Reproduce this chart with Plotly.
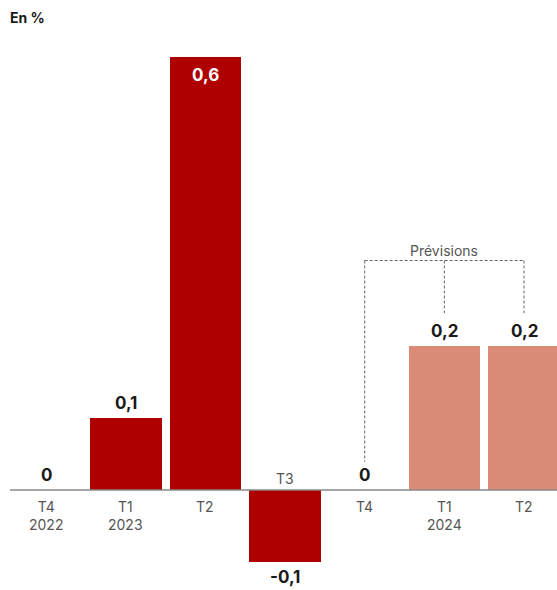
import plotly.graph_objects as go

categories = ["T4<br>2022", "T1<br>2023", "T2", "T3", "T4", "T1<br>2024", "T2"]
values = [0, 0.1, 0.6, -0.1, 0, 0.2, 0.2]
value_labels = ["0", "0,1", "0,6", "-0,1", "0", "0,2", "0,2"]
is_forecast = [False, False, False, False, False, True, True]

RED = "#AF0000"
PINK = "#D98B77"
FONT = "Inter, Roboto, sans-serif"

x = list(range(len(values)))
colors = [PINK if f else RED for f in is_forecast]

fig = go.Figure()
fig.add_trace(go.Bar(x=x, y=values, marker=dict(color=colors, line=dict(width=0)),
                     width=0.9, hoverinfo="skip"))

annotations = []
for i, (v, lab, cat) in enumerate(zip(values, value_labels, categories)):
    # value labels
    if v >= 0.5:
        annotations.append(dict(x=i, y=v, text="<b>%s</b>" % lab, showarrow=False,
                                yanchor="top", yshift=-6,
                                font=dict(family=FONT, size=17, color="white")))
    elif v >= 0:
        annotations.append(dict(x=i, y=v, text="<b>%s</b>" % lab, showarrow=False,
                                yanchor="bottom", yshift=3,
                                font=dict(family=FONT, size=17, color="#1a1a1a")))
    else:
        annotations.append(dict(x=i, y=v, text="<b>%s</b>" % lab, showarrow=False,
                                yanchor="top", yshift=-3,
                                font=dict(family=FONT, size=17, color="#1a1a1a")))
    # category labels
    if v < 0:
        annotations.append(dict(x=i, y=0, text=cat, showarrow=False,
                                yanchor="bottom", yshift=1,
                                font=dict(family=FONT, size=14, color="#555555")))
    else:
        annotations.append(dict(x=i, y=0, text=cat, showarrow=False,
                                yanchor="top", yshift=-6,
                                font=dict(family=FONT, size=14, color="#555555")))

# Prévisions bracket
annotations.append(dict(x=5, y=0.318, text="Prévisions", showarrow=False,
                        yanchor="bottom", font=dict(family=FONT, size=14, color="#555555")))
annotations.append(dict(xref="paper", yref="paper", x=0, y=1, xshift=-2, yshift=38,
                        text="<b>En %</b>", showarrow=False, xanchor="left", yanchor="top",
                        font=dict(family=FONT, size=14, color="#1a1a1a")))

dash = dict(color="#666666", width=1, dash="3px,2px")
shapes = [
    dict(type="line", x0=4, x1=6, y0=0.318, y1=0.318, line=dash),
    dict(type="line", x0=4, x1=4, y0=0.318, y1=0.039, line=dash),
    dict(type="line", x0=5, x1=5, y0=0.318, y1=0.245, line=dash),
    dict(type="line", x0=6, x1=6, y0=0.318, y1=0.245, line=dash),
    dict(type="line", xref="paper", x0=0, x1=1, y0=0, y1=0,
         line=dict(color="#888888", width=1.5)),
]

fig.update_layout(
    width=557, height=590,
    margin=dict(l=10, r=0, t=45, b=5),
    paper_bgcolor="white", plot_bgcolor="white",
    showlegend=False,
    bargap=0,
    xaxis=dict(range=[-0.452, 6.414], showticklabels=False, showgrid=False,
               zeroline=False, showline=False, ticks=""),
    yaxis=dict(range=[-0.1316, 0.6166], showticklabels=False, showgrid=False,
               zeroline=False, showline=False, ticks=""),
    annotations=annotations,
    shapes=shapes,
)

fig.write_html("out.html")
